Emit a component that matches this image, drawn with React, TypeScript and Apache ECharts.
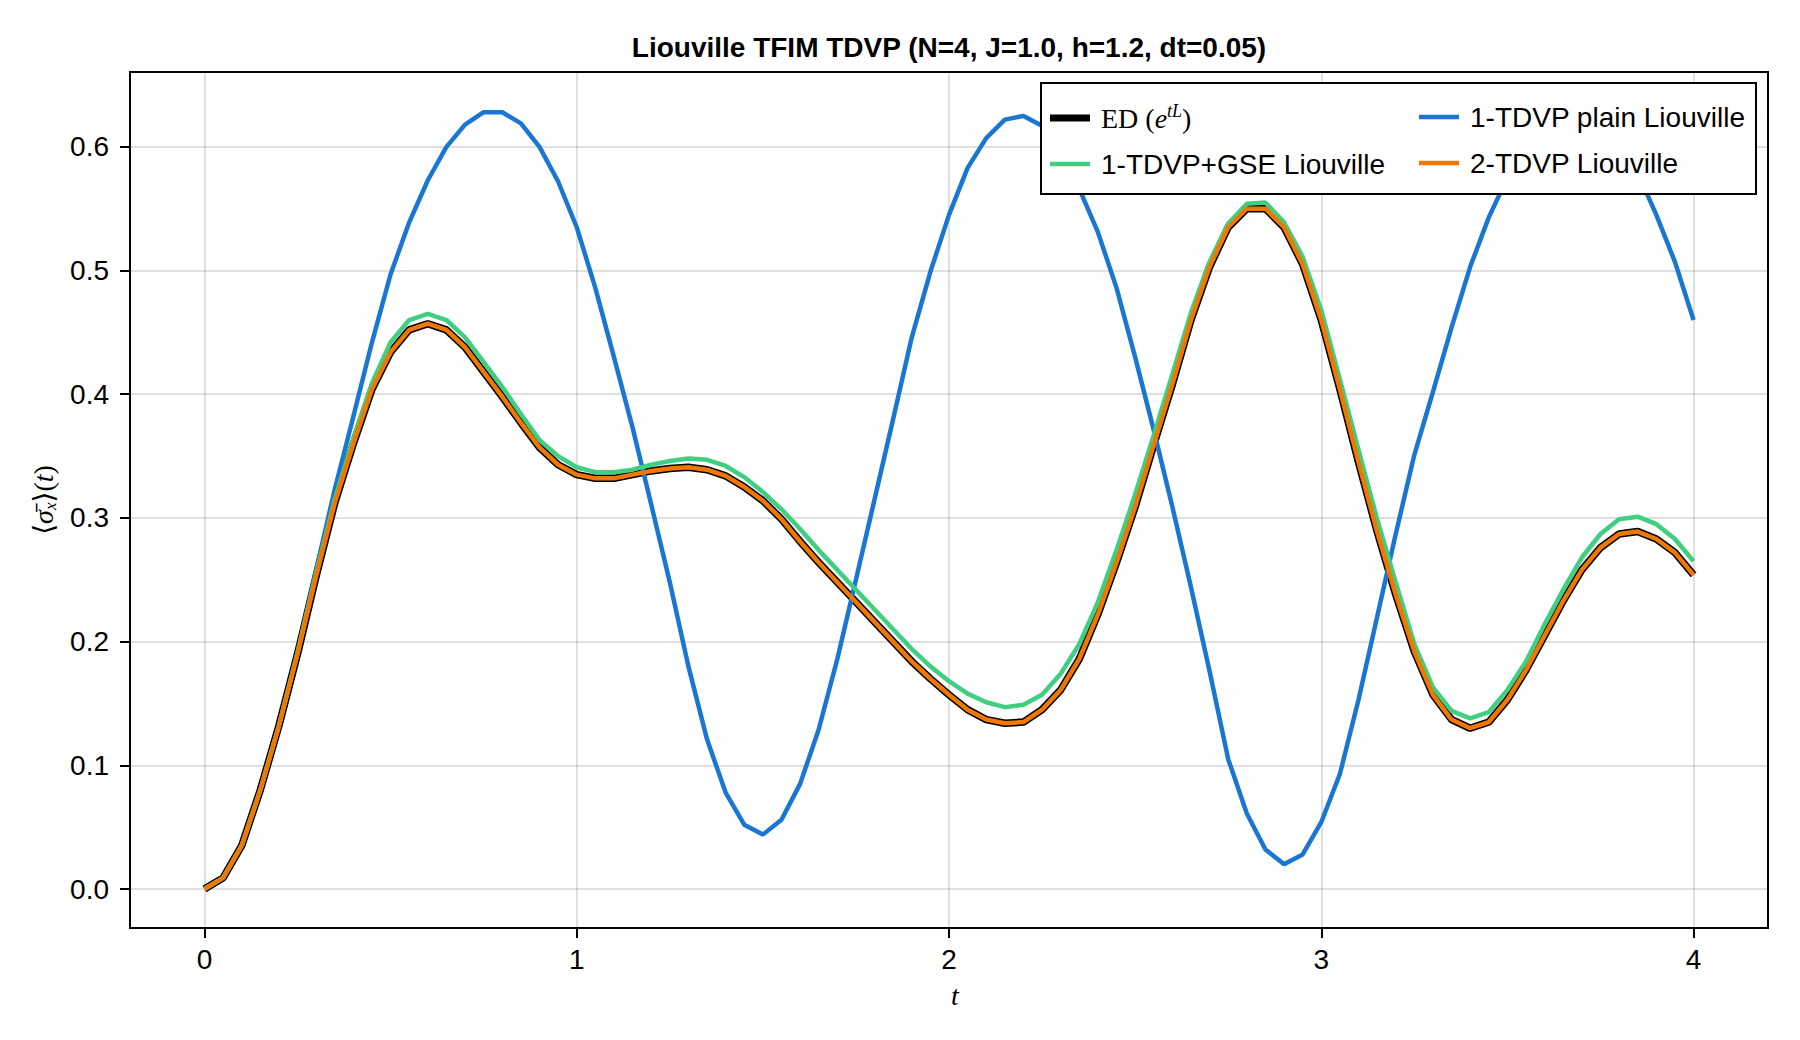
import * as echarts from 'echarts';
import { useEffect, useRef } from 'react';

// time step of the simulation, t = 0 .. 4
const DT = 0.05;

// exact diagonalisation, exp(tL)
const ED = [
  0, 0.009, 0.035, 0.08, 0.132, 0.19, 0.253, 0.312, 0.36, 0.404,
  0.434, 0.452, 0.457, 0.452, 0.438, 0.418, 0.398, 0.377, 0.357, 0.343,
  0.335, 0.332, 0.332, 0.335, 0.338, 0.34, 0.341, 0.339, 0.334, 0.325,
  0.314, 0.299, 0.281, 0.264, 0.248, 0.232, 0.216, 0.2, 0.184, 0.17,
  0.157, 0.145, 0.137, 0.134, 0.135, 0.145, 0.161, 0.186, 0.222, 0.264,
  0.309, 0.359, 0.408, 0.46, 0.503, 0.535, 0.55, 0.55, 0.535, 0.505,
  0.46, 0.404, 0.345, 0.289, 0.238, 0.192, 0.157, 0.137, 0.13, 0.135,
  0.153, 0.177, 0.205, 0.233, 0.258, 0.276, 0.287, 0.289, 0.283, 0.272,
  0.254,
];

const PLAIN = [
  0, 0.009, 0.035, 0.08, 0.132, 0.191, 0.258, 0.323, 0.382, 0.442,
  0.497, 0.539, 0.573, 0.6, 0.618, 0.628, 0.628, 0.619, 0.6, 0.572,
  0.535, 0.486, 0.43, 0.373, 0.311, 0.248, 0.18, 0.121, 0.078, 0.052,
  0.044, 0.056, 0.085, 0.129, 0.186, 0.25, 0.315, 0.38, 0.446, 0.499,
  0.545, 0.583, 0.607, 0.622, 0.625, 0.617, 0.597, 0.566, 0.531, 0.486,
  0.43, 0.371, 0.309, 0.244, 0.176, 0.105, 0.061, 0.032, 0.02, 0.028,
  0.054, 0.093, 0.153, 0.22, 0.287, 0.351, 0.402, 0.454, 0.503, 0.543,
  0.575, 0.601, 0.619, 0.628, 0.629, 0.621, 0.604, 0.579, 0.545, 0.507,
  0.46,
];

const GSE = [
  0, 0.009, 0.035, 0.08, 0.132, 0.191, 0.255, 0.315, 0.364, 0.409,
  0.442, 0.46, 0.465, 0.46, 0.446, 0.426, 0.406, 0.384, 0.363, 0.35,
  0.341, 0.337, 0.337, 0.339, 0.343, 0.346, 0.348, 0.347, 0.342, 0.333,
  0.321, 0.307, 0.291, 0.274, 0.258, 0.242, 0.226, 0.21, 0.194, 0.18,
  0.168, 0.158, 0.151, 0.147, 0.149, 0.157, 0.174, 0.198, 0.232, 0.274,
  0.319, 0.367, 0.416, 0.466, 0.507, 0.538, 0.554, 0.555, 0.539, 0.511,
  0.468, 0.412, 0.355, 0.299, 0.248, 0.198, 0.163, 0.144, 0.138, 0.143,
  0.161, 0.184, 0.214, 0.242, 0.268, 0.287, 0.299, 0.301, 0.295, 0.283,
  0.265,
];

// sits right on top of ED in the picture
const TDVP2 = [
  0, 0.009, 0.035, 0.08, 0.132, 0.19, 0.253, 0.312, 0.36, 0.404,
  0.434, 0.452, 0.457, 0.452, 0.438, 0.418, 0.398, 0.377, 0.357, 0.343,
  0.335, 0.332, 0.332, 0.335, 0.338, 0.34, 0.341, 0.339, 0.334, 0.325,
  0.314, 0.299, 0.281, 0.264, 0.248, 0.232, 0.216, 0.2, 0.184, 0.17,
  0.157, 0.145, 0.137, 0.134, 0.135, 0.145, 0.161, 0.186, 0.222, 0.264,
  0.309, 0.359, 0.408, 0.46, 0.503, 0.535, 0.55, 0.55, 0.535, 0.505,
  0.46, 0.404, 0.345, 0.289, 0.238, 0.192, 0.157, 0.137, 0.13, 0.135,
  0.153, 0.177, 0.205, 0.233, 0.258, 0.276, 0.287, 0.289, 0.283, 0.272,
  0.254,
];

const X_TICKS = [0, 1, 2, 3, 4];
const Y_TICKS = [0, 0.1, 0.2, 0.3, 0.4, 0.5, 0.6];

const T = ED.map((_, i) => Number((i * DT).toFixed(2)));

const SANS = '"Liberation Sans", Arial, sans-serif';
const SERIF = '"Liberation Serif", "DejaVu Serif", serif';
const FS = 28;

// flat bars as legend keys, no marker in the middle
const THIN_KEY = 'path://M0,0H40V4.5H0Z';
const THICK_KEY = 'path://M0,0H40V7H0Z';

function pairs(values: number[]) {
  return values.map((v, i) => [T[i], v]);
}

const legendText = {
  fontFamily: SANS,
  fontSize: FS,
  color: '#000',
  lineHeight: 30,
  padding: [0, 0, 0, 6],
  rich: {
    r: { fontFamily: SERIF, fontSize: FS, lineHeight: 30, color: '#000' },
    i: { fontFamily: SERIF, fontStyle: 'italic', fontSize: FS, lineHeight: 30, color: '#000' },
    sup: { fontFamily: SERIF, fontStyle: 'italic', fontSize: 18, padding: [0, 0, 14, 0], color: '#000' },
  },
};

function legendFormatter(name: string) {
  return name === 'ED' ? '{r|ED (}{i|e}{sup|tL}{r|)}' : name;
}

export default function App() {
  const elRef = useRef<HTMLDivElement | null>(null);

  useEffect(() => {
    if (!elRef.current) return;
    const chart = echarts.init(elRef.current, undefined, { renderer: 'svg' });

    const line = (name: string, values: number[], color: string, width: number) => ({
      name,
      type: 'line',
      data: pairs(values),
      symbol: 'none',
      showSymbol: false,
      lineStyle: { color, width },
      itemStyle: { color },
      z: 2,
    });

    const legendBase = {
      orient: 'vertical',
      top: 102,
      padding: 0,
      itemWidth: 40,
      itemHeight: 14,
      itemGap: 16,
      textStyle: legendText,
      z: 5,
    };

    chart.setOption({
      animation: false,
      backgroundColor: '#fff',
      textStyle: { fontFamily: SANS },
      title: {
        text: 'Liouville TFIM TDVP (N=4, J=1.0, h=1.2, dt=0.05)',
        left: 949,
        top: 33,
        padding: 0,
        textAlign: 'center',
        textStyle: { fontFamily: SANS, fontSize: FS, fontWeight: 'bold', color: '#000' },
      },
      grid: {
        left: 130,
        right: 32,
        top: 72,
        bottom: 112,
        show: true,
        borderColor: '#000',
        borderWidth: 2,
        backgroundColor: 'transparent',
      },
      xAxis: {
        type: 'value',
        min: -0.2,
        max: 4.2,
        axisLine: { show: true, onZero: false, lineStyle: { color: '#000', width: 2 } },
        axisTick: { show: true, customValues: X_TICKS, length: 10, lineStyle: { color: '#000', width: 2 } },
        axisLabel: {
          customValues: X_TICKS,
          formatter: (v: number) => String(v),
          fontFamily: SANS,
          fontSize: FS,
          color: '#000',
          margin: 17,
        },
        splitLine: { show: true, lineStyle: { color: 'rgba(0,0,0,0.12)', width: 2 } },
      },
      yAxis: {
        type: 'value',
        min: -0.0315,
        max: 0.6605,
        axisLine: { show: true, onZero: false, lineStyle: { color: '#000', width: 2 } },
        axisTick: { show: true, customValues: Y_TICKS, length: 10, lineStyle: { color: '#000', width: 2 } },
        axisLabel: {
          customValues: Y_TICKS,
          formatter: (v: number) => v.toFixed(1),
          fontFamily: SANS,
          fontSize: FS,
          color: '#000',
          margin: 21,
        },
        splitLine: { show: true, lineStyle: { color: 'rgba(0,0,0,0.12)', width: 2 } },
      },
      legend: [
        {
          ...legendBase,
          left: 1050,
          data: [
            { name: 'ED', icon: THICK_KEY },
            { name: '1-TDVP+GSE Liouville', icon: THIN_KEY },
          ],
          formatter: legendFormatter,
        },
        {
          ...legendBase,
          left: 1419,
          data: [
            { name: '1-TDVP plain Liouville', icon: THIN_KEY },
            { name: '2-TDVP Liouville', icon: THIN_KEY },
          ],
        },
      ],
      graphic: [
        {
          type: 'rect',
          z: 4,
          shape: { x: 1041, y: 83, width: 715, height: 111 },
          style: { fill: '#fff', stroke: '#000', lineWidth: 2 },
        },
        {
          type: 'text',
          x: 955,
          y: 995,
          style: {
            text: 't',
            font: `italic ${FS}px ${SERIF}`,
            fill: '#000',
            align: 'center',
            verticalAlign: 'middle',
          },
        },
        {
          type: 'text',
          x: 43,
          y: 500,
          rotation: Math.PI / 2,
          style: {
            text: '{n|⟨}{i|σ̄}{s|x}{n|⟩(}{i|t}{n|)}',
            align: 'center',
            verticalAlign: 'middle',
            fill: '#000',
            rich: {
              n: { fontFamily: SERIF, fontSize: FS, lineHeight: 32, fill: '#000' },
              i: { fontFamily: SERIF, fontStyle: 'italic', fontSize: FS, lineHeight: 32, fill: '#000' },
              s: { fontFamily: SERIF, fontStyle: 'italic', fontSize: 17, padding: [14, 0, 0, 0], fill: '#000' },
            },
          },
        },
      ],
      series: [
        line('ED', ED, '#000000', 7.5),
        line('1-TDVP plain Liouville', PLAIN, '#1976D2', 4.5),
        line('1-TDVP+GSE Liouville', GSE, '#40CF80', 4.5),
        line('2-TDVP Liouville', TDVP2, '#F07800', 4.5),
      ],
    } as any);

    return () => {
      chart.dispose();
    };
  }, []);

  return (
    <div
      ref={elRef}
      style={{ position: 'absolute', left: 0, top: 0, width: 1800, height: 1040 }}
    />
  );
}
